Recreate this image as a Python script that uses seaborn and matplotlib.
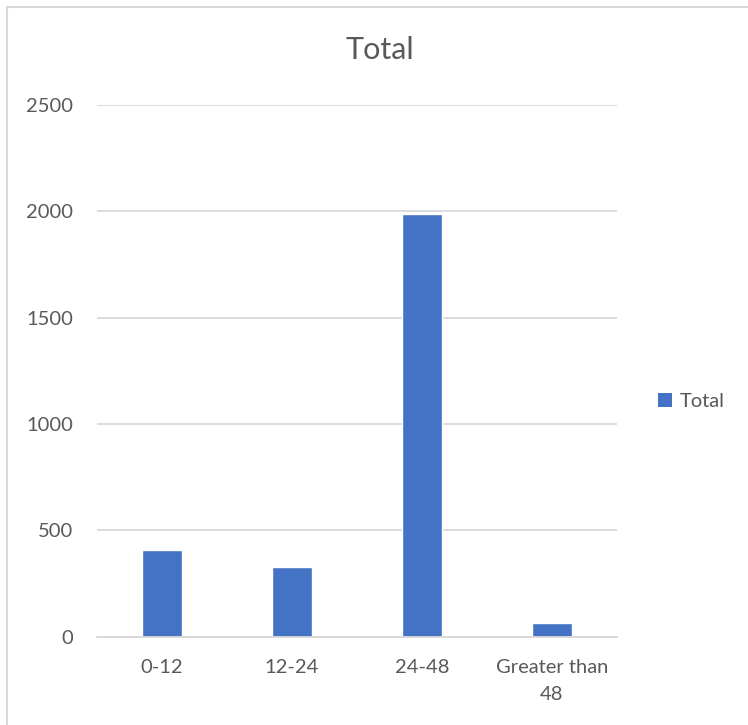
import pandas as pd
import matplotlib.pyplot as plt
import seaborn as sns
from matplotlib.patches import Rectangle, Patch

categories = ["0-12", "12-24", "24-48", "Greater than\n48"]
totals = [408, 329, 1986, 63]
y_ticks = [0, 500, 1000, 1500, 2000, 2500]

bar_color = "#4472C4"
text_color = "#595959"
grid_color = "#D9D9D9"


def main():
    sns.set_style("white")
    plt.rcParams["font.family"] = ["Lato", "DejaVu Sans"]

    df = pd.DataFrame({"range": categories, "total": totals})

    fig = plt.figure(figsize=(7.48, 7.25), dpi=100)
    ax = fig.add_axes([97 / 748, 1 - 636.7 / 725, 520 / 748, 531.7 / 725])

    sns.barplot(data=df, x="range", y="total", color=bar_color, width=0.315,
                saturation=1, ax=ax)

    ax.set_ylim(0, 2500)
    ax.set_xlim(-0.5, 3.5)
    ax.set_yticks(y_ticks)
    ax.yaxis.grid(True, color=grid_color, linewidth=1.3)
    ax.set_axisbelow(True)
    for side in ["left", "right", "top"]:
        ax.spines[side].set_visible(False)
    ax.spines["bottom"].set_color(grid_color)
    ax.spines["bottom"].set_linewidth(1.3)
    ax.tick_params(axis="both", length=0, labelsize=14.5, labelcolor=text_color)
    ax.tick_params(axis="y", pad=17)
    ax.tick_params(axis="x", pad=16)
    for lbl in ax.get_xticklabels():
        lbl.set_linespacing(1.75)
    ax.set_xlabel("")
    ax.set_ylabel("")

    fig.text(380 / 748, 1 - 50 / 725, "Total", ha="center", va="center",
             fontsize=22, color=text_color)

    handle = Patch(facecolor=bar_color, edgecolor="none")
    fig.legend([handle], ["Total"], loc="center left",
               bbox_to_anchor=(650 / 748, 1 - 401.5 / 725), frameon=False,
               fontsize=14.5, labelcolor=text_color, handlelength=0.7,
               handleheight=0.7, handletextpad=0.4, borderaxespad=0)

    # chart area border (cut off at right/bottom edges)
    fig.patches.append(Rectangle((6.5 / 748, -0.1), 2, 1 - 6.5 / 725 + 0.1,
                                 transform=fig.transFigure, fill=False,
                                 edgecolor=grid_color, linewidth=1.5))

    fig.savefig("out.png", dpi=100)


if __name__ == "__main__":
    main()
